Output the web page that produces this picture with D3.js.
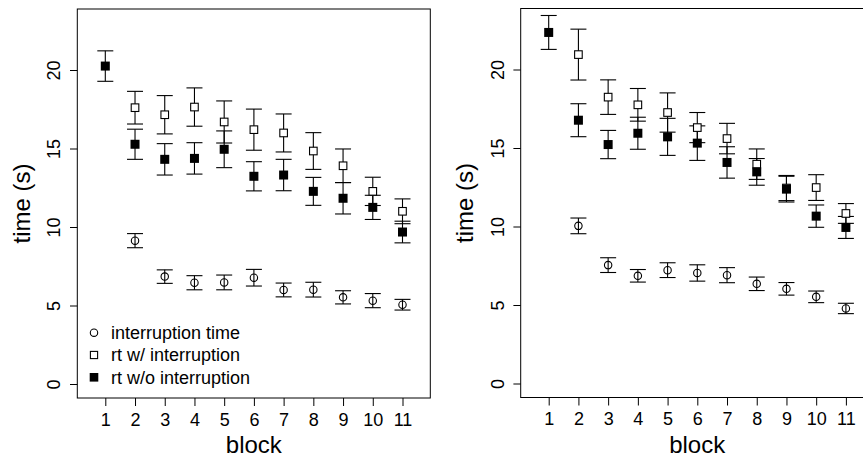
<!DOCTYPE html>
<html>
<head>
<meta charset="utf-8">
<script src="https://cdn.jsdelivr.net/npm/d3@7/dist/d3.min.js"></script>
<style>
html,body{margin:0;padding:0;background:#fff;}
svg{display:block;font-family:"Liberation Sans",Arial,Helvetica,sans-serif;}
</style>
</head>
<body>
<svg id="chart" width="863" height="459"></svg>
<script>
// ---- data ----
const blocks = [1,2,3,4,5,6,7,8,9,10,11];
const blocksInterrupted = [2,3,4,5,6,7,8,9,10,11];
const yTicks = [0,5,10,15,20];
const seriesNames = ["interruption time","rt w/ interruption","rt w/o interruption"];

// left panel
const leftInterruptMean = [9.13,6.84,6.45,6.47,6.77,5.99,6.01,5.52,5.31,5.05];
const leftInterruptErr  = [0.45,0.43,0.45,0.47,0.53,0.44,0.47,0.42,0.45,0.34];
const leftRtWithMean    = [17.6,17.15,17.64,16.69,16.2,15.99,14.84,13.9,12.27,11.0];
const leftRtWithErr     = [1.04,1.22,1.22,1.34,1.31,1.21,1.17,1.07,0.9,0.79];
const leftRtWithoutMean = [20.25,15.27,14.31,14.37,14.95,13.23,13.31,12.27,11.83,11.25,9.68];
const leftRtWithoutErr  = [0.97,0.96,1.0,1.0,1.17,0.93,1.0,0.89,1.0,0.77,0.69];

// right panel
const rightInterruptMean = [10.04,7.54,6.86,7.22,7.04,6.9,6.35,6.03,5.52,4.78];
const rightInterruptErr  = [0.5,0.47,0.4,0.47,0.52,0.48,0.43,0.4,0.37,0.33];
const rightRtWithMean    = [20.95,18.24,17.75,17.26,16.3,15.6,13.97,12.45,12.48,10.83];
const rightRtWithErr     = [1.62,1.1,1.04,1.25,0.96,0.97,0.97,0.8,0.82,0.63];
const rightRtWithoutMean = [22.36,16.77,15.22,15.94,15.71,15.31,14.08,13.48,12.38,10.66,9.94];
const rightRtWithoutErr  = [1.08,1.05,0.9,1.02,1.18,1.1,1.0,0.85,0.82,0.71,0.7];

// ---- drawing ----
const svg = d3.select("#chart");
const tickFont = 18, legendFont = 18, titleFont = 24;

function panel(ox, oy, data, showLegend){
  const L = 77.3 + ox, R = 430.3 + ox, T = 9 + oy, B = 398 + oy;
  const x = d3.scaleLinear().domain([1,11]).range([105.3+ox, 402.5+ox]);
  const y = d3.scaleLinear().domain([0,20]).range([384+oy, 70+oy]);
  const g = svg.append("g");

  // axes
  const xa = g.append("g").attr("transform",`translate(0,${B})`)
    .call(d3.axisBottom(x).tickValues(blocks).tickSize(8).tickSizeOuter(0).tickPadding(3));
  xa.select(".domain").remove();
  xa.selectAll("line").attr("stroke","#000");
  xa.selectAll("text").attr("font-size",tickFont).attr("font-family",null)
    .attr("fill","#000").attr("dy",null).attr("y",27.7);

  const ya = g.append("g").attr("transform",`translate(${L},0)`)
    .call(d3.axisLeft(y).tickValues(yTicks).tickSize(7.3).tickSizeOuter(0));
  ya.select(".domain").remove();
  ya.selectAll("line").attr("stroke","#000");
  ya.selectAll("text").attr("font-size",tickFont).attr("font-family",null)
    .attr("fill","#000").attr("dy",null).attr("x",null)
    .attr("text-anchor","middle")
    .attr("transform","translate(-17.2,0) rotate(-90)");

  // box
  g.append("rect").attr("x",L).attr("y",T).attr("width",R-L).attr("height",B-T)
    .attr("fill","none").attr("stroke","#000").attr("stroke-width",1);

  // titles
  g.append("text").attr("x",(L+R)/2).attr("y",453).attr("text-anchor","middle")
    .attr("font-size",titleFont).text("block");
  g.append("text").attr("transform",`translate(${L-47.7},${(T+B)/2}) rotate(-90)`)
    .attr("text-anchor","middle").attr("font-size",titleFont).text("time (s)");

  const cap = 8;
  function errBars(xs, m, e){
    const rows = xs.map((b,i)=>({b, m:m[i], e:e[i]}));
    const eg = g.append("g").attr("stroke","#000").attr("stroke-width",1.1);
    eg.selectAll(null).data(rows).enter().append("line")
      .attr("x1",d=>x(d.b)).attr("x2",d=>x(d.b)).attr("y1",d=>y(d.m+d.e)).attr("y2",d=>y(d.m-d.e));
    eg.selectAll(null).data(rows).enter().append("line")
      .attr("x1",d=>x(d.b)-cap).attr("x2",d=>x(d.b)+cap).attr("y1",d=>y(d.m+d.e)).attr("y2",d=>y(d.m+d.e));
    eg.selectAll(null).data(rows).enter().append("line")
      .attr("x1",d=>x(d.b)-cap).attr("x2",d=>x(d.b)+cap).attr("y1",d=>y(d.m-d.e)).attr("y2",d=>y(d.m-d.e));
    return rows;
  }
  const r1 = errBars(blocks, data.woM, data.woE);
  const r2 = errBars(blocksInterrupted, data.wM, data.wE);
  const r3 = errBars(blocksInterrupted, data.iM, data.iE);

  const s = 8.6;
  g.selectAll(null).data(r2).enter().append("rect")
    .attr("x",d=>x(d.b)-s/2+0.5).attr("y",d=>y(d.m)-s/2+0.5).attr("width",s-1).attr("height",s-1)
    .attr("fill","#fff").attr("stroke","#000").attr("stroke-width",1.1);
  g.selectAll(null).data(r1).enter().append("rect")
    .attr("x",d=>x(d.b)-s/2-0.2).attr("y",d=>y(d.m)-s/2-0.2).attr("width",s+0.4).attr("height",s+0.4)
    .attr("fill","#000");
  g.selectAll(null).data(r3).enter().append("circle")
    .attr("cx",d=>x(d.b)).attr("cy",d=>y(d.m)).attr("r",3.7)
    .attr("fill","none").attr("stroke","#000").attr("stroke-width",1.1);

  if(showLegend){
    const lx = 94 + ox, ly = [332.7,355,377.3];
    const lg = g.append("g");
    lg.append("circle").attr("cx",lx).attr("cy",ly[0]).attr("r",3.7)
      .attr("fill","none").attr("stroke","#000").attr("stroke-width",1.1);
    lg.append("rect").attr("x",lx-3.6).attr("y",ly[1]-3.6).attr("width",7.2).attr("height",7.2)
      .attr("fill","none").attr("stroke","#000").attr("stroke-width",1.1);
    lg.append("rect").attr("x",lx-4.3).attr("y",ly[2]-4.3).attr("width",8.6).attr("height",8.6)
      .attr("fill","#000");
    lg.selectAll(null).data(seriesNames).enter().append("text")
      .attr("x",111+ox).attr("y",(d,i)=>ly[i]+6.4).attr("font-size",legendFont).text(d=>d);
  }
}

panel(0, 0, {iM:leftInterruptMean,iE:leftInterruptErr,wM:leftRtWithMean,wE:leftRtWithErr,woM:leftRtWithoutMean,woE:leftRtWithoutErr}, true);
panel(443.4, -0.5, {iM:rightInterruptMean,iE:rightInterruptErr,wM:rightRtWithMean,wE:rightRtWithErr,woM:rightRtWithoutMean,woE:rightRtWithoutErr}, false);
</script>
</body>
</html>
